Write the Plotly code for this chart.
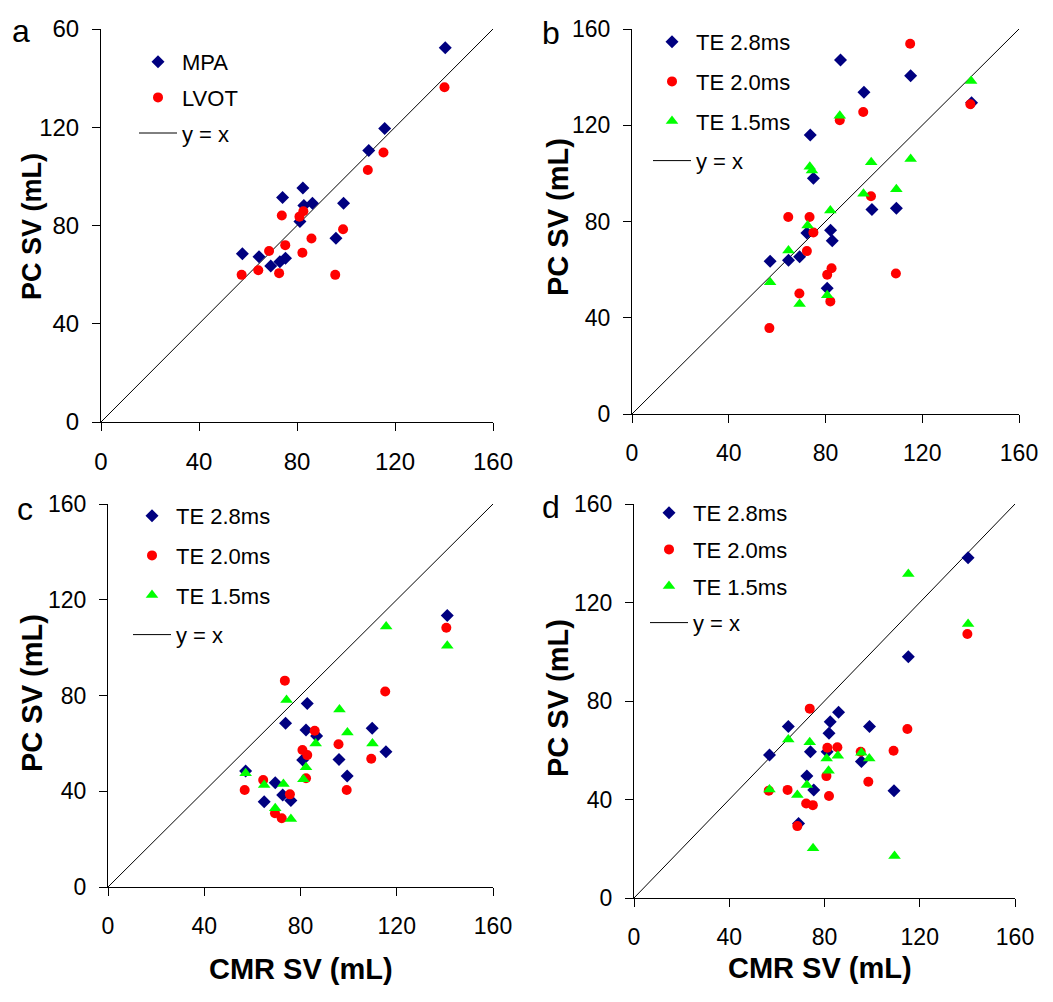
import plotly.graph_objects as go

# ---------------- data ----------------
DIAG = [0, 160]
TICKS = [0, 40, 80, 120, 160]
TICKTEXT_A = ["0", "40", "80", "120", "60"]
TICKTEXT = ["0", "40", "80", "120", "160"]

# Panel a
a_mpa_x = [57.7, 64.5, 69.3, 73.0, 75.3, 74.1, 82.4, 82.8, 86.3, 81.2, 95.9, 99.0, 109.3, 115.8, 140.5]
a_mpa_y = [68.5, 67.3, 63.5, 65.2, 66.7, 91.4, 95.3, 88.1, 89.1, 81.6, 74.8, 89.1, 110.5, 119.5, 152.4]
a_lvot_x = [57.4, 64.2, 68.6, 72.7, 73.8, 75.2, 81.0, 82.6, 82.2, 85.9, 95.6, 98.8, 108.9, 115.3, 140.2]
a_lvot_y = [59.9, 61.8, 69.6, 60.6, 84.1, 72.0, 83.6, 85.8, 68.9, 74.7, 59.9, 78.5, 102.6, 109.7, 136.3]

# Panel b
b_28_x = [57.1, 64.7, 69.3, 72.3, 73.7, 75.0, 80.7, 82.1, 82.8, 86.2, 95.9, 99.2, 109.3, 115.2, 140.4]
b_28_y = [63.5, 63.9, 65.3, 75.2, 116.0, 98.0, 52.3, 76.4, 72.0, 147.1, 133.7, 85.0, 85.5, 140.6, 129.3]
b_20_x = [56.8, 64.6, 69.2, 72.3, 73.4, 75.0, 80.7, 82.5, 82.0, 85.9, 95.6, 98.8, 109.1, 115.0, 139.9]
b_20_y = [35.7, 81.9, 50.1, 67.7, 81.9, 75.4, 57.9, 60.6, 46.8, 122.1, 125.5, 90.5, 58.4, 153.9, 128.7]
b_15_x = [57.1, 64.7, 69.3, 72.6, 73.5, 74.4, 82.0, 80.7, 85.9, 95.7, 98.9, 109.3, 115.2, 140.2]
b_15_y = [54.8, 68.0, 45.7, 78.3, 102.8, 101.2, 84.6, 49.3, 123.9, 91.5, 104.6, 93.4, 106.0, 138.4]

# Panel c
c_28_x = [57.2, 64.9, 69.5, 72.6, 76.0, 73.8, 82.8, 82.3, 80.9, 86.7, 96.0, 99.4, 109.8, 115.5, 141.0]
c_28_y = [48.5, 35.6, 43.6, 38.4, 36.1, 68.4, 76.7, 65.6, 53.1, 63.1, 53.3, 46.4, 66.3, 56.5, 113.4]
c_20_x = [56.8, 64.5, 69.4, 72.2, 73.5, 75.6, 80.8, 82.8, 82.3, 85.9, 95.8, 99.2, 109.4, 115.2, 140.6]
c_20_y = [40.5, 44.7, 30.8, 28.7, 86.2, 38.7, 57.2, 55.1, 45.4, 65.3, 59.6, 40.5, 53.6, 81.7, 108.3]
c_15_x = [57.2, 64.9, 69.5, 72.9, 74.2, 76.0, 81.2, 82.3, 86.3, 96.2, 99.5, 109.9, 115.6, 141.0]
c_15_y = [47.5, 42.6, 32.9, 43.0, 78.1, 28.4, 45.0, 50.0, 60.0, 74.2, 64.5, 60.0, 108.8, 100.8]

# Panel d
d_28_x = [56.9, 64.8, 69.1, 72.6, 74.1, 75.5, 81.1, 81.9, 82.4, 85.9, 95.5, 98.9, 109.2, 115.2, 140.3]
d_28_y = [58.1, 69.6, 30.3, 49.5, 59.4, 43.9, 59.4, 66.9, 71.6, 75.4, 55.4, 69.6, 43.6, 98.0, 138.2]
d_20_x = [56.6, 64.5, 68.6, 72.3, 75.1, 73.8, 80.8, 81.2, 81.9, 85.4, 95.2, 98.4, 109.0, 114.8, 140.0]
d_20_y = [43.6, 43.9, 29.2, 38.4, 37.7, 76.9, 49.5, 61.0, 41.4, 61.2, 59.4, 47.2, 59.8, 68.6, 107.2]
d_15_x = [56.9, 64.8, 68.6, 72.6, 73.8, 75.2, 80.9, 81.7, 85.6, 95.5, 98.8, 109.4, 115.2, 140.3]
d_15_y = [44.1, 64.4, 41.8, 45.9, 63.2, 20.2, 56.7, 51.7, 57.8, 59.0, 56.7, 17.1, 131.6, 111.3]

# ---------------- style ----------------
FONT = "Arial, Liberation Sans, sans-serif"
NAVY = "#000080"
RED = "#FF0000"
GREEN = "#00FF00"
OFF = 8                      # default page body margin
W, H = 1053 - OFF, 1002 - OFF


def fx(px):
    return (px - OFF) / W


def fy(py):
    return 1 - (py - OFF) / H


# pixel boxes (page coordinates) of the four plot areas: (left, right, top, bottom)
boxes = {
    "a": (101, 493, 29, 422),
    "b": (632, 1019, 29, 414),
    "c": (108, 493, 504, 887),
    "d": (634, 1015, 504, 898),
}

fig = go.Figure()

axis_ids = {"a": ("x", "y", "legend"), "b": ("x2", "y2", "legend2"),
            "c": ("x3", "y3", "legend3"), "d": ("x4", "y4", "legend4")}

series = {
    "a": [("MPA", a_mpa_x, a_mpa_y, "diamond", NAVY),
          ("LVOT", a_lvot_x, a_lvot_y, "circle", RED)],
    "b": [("TE 2.8ms", b_28_x, b_28_y, "diamond", NAVY),
          ("TE 2.0ms", b_20_x, b_20_y, "circle", RED),
          ("TE 1.5ms", b_15_x, b_15_y, "triangle-up", GREEN)],
    "c": [("TE 2.8ms", c_28_x, c_28_y, "diamond", NAVY),
          ("TE 2.0ms", c_20_x, c_20_y, "circle", RED),
          ("TE 1.5ms", c_15_x, c_15_y, "triangle-up", GREEN)],
    "d": [("TE 2.8ms", d_28_x, d_28_y, "diamond", NAVY),
          ("TE 2.0ms", d_20_x, d_20_y, "circle", RED),
          ("TE 1.5ms", d_15_x, d_15_y, "triangle-up", GREEN)],
}

marker_size = {"diamond": 10, "circle": 10, "triangle-up": 11}

for p in "abcd":
    xa, ya, lg = axis_ids[p]
    # identity line (drawn first, listed last in legend)
    fig.add_trace(go.Scatter(x=DIAG, y=DIAG, mode="lines", name="y = x",
                             line=dict(color="black", width=1),
                             xaxis=xa, yaxis=ya, legend=lg,
                             legendgroup=p + "line", legendrank=10,
                             hoverinfo="skip"))
    for i, (name, xs, ys, sym, col) in enumerate(series[p]):
        fig.add_trace(go.Scatter(x=xs, y=ys, mode="markers", name=name,
                                 marker=dict(symbol=sym, color=col,
                                             size=marker_size[sym],
                                             line=dict(width=0)),
                                 xaxis=xa, yaxis=ya, legend=lg,
                                 legendgroup=p + str(i), legendrank=i + 1))

# axes
for p in "abcd":
    xa, ya, lg = axis_ids[p]
    l, r, t, b = boxes[p]
    fs = 24 if p == "a" else 23
    common = dict(range=[0, 160], tickvals=TICKS, showline=True,
                  linecolor="black", linewidth=1, ticks="outside", ticklen=8,
                  tickwidth=1, tickcolor="black", showgrid=False, zeroline=False,
                  automargin=False,
                  tickfont=dict(family=FONT, size=fs, color="black"))
    xkey = "xaxis" if xa == "x" else "xaxis" + xa[1:]
    ykey = "yaxis" if ya == "y" else "yaxis" + ya[1:]
    fig.update_layout({
        xkey: dict(domain=[fx(l), fx(r)], anchor=ya, ticktext=TICKTEXT,
                   ticklabelstandoff=10, **common),
        ykey: dict(domain=[fy(b), fy(t)], anchor=xa,
                   ticktext=TICKTEXT_A if p == "a" else TICKTEXT,
                   ticklabelstandoff=8, **common),
    })

# legends: (left px, top px, group gap)
legend_pos = {"a": (134, 41, 4), "b": (648, 21, 8), "c": (128, 495, 8), "d": (645, 492, 5)}
for p in "abcd":
    xa, ya, lg = axis_ids[p]
    lx, ly, gap = legend_pos[p]
    fig.update_layout({lg: dict(x=fx(lx), y=fy(ly), xanchor="left", yanchor="top",
                                bgcolor="rgba(0,0,0,0)", borderwidth=0,
                                traceorder="grouped", tracegroupgap=gap,
                                itemwidth=38,
                                font=dict(family=FONT, size=22, color="black"))})

# panel letters and axis titles
anns = []
letters = {"a": (21, 31), "b": (551, 33), "c": (25, 509), "d": (551, 507)}
for p, (lx, ly) in letters.items():
    anns.append(dict(text=p, x=fx(lx), y=fy(ly), xref="paper", yref="paper",
                     showarrow=False, xanchor="center", yanchor="middle",
                     font=dict(family=FONT, size=32, color="black")))
ytitles = {"a": (32, 227, 27), "b": (558, 217, 29), "c": (32, 693, 29), "d": (558, 698, 29)}
for p, (tx, ty, fs) in ytitles.items():
    anns.append(dict(text="<b>PC SV (mL)</b>", x=fx(tx), y=fy(ty),
                     xref="paper", yref="paper", showarrow=False, textangle=-90,
                     xanchor="center", yanchor="middle",
                     font=dict(family=FONT, size=fs, color="black")))
xtitles = {"c": (301, 969), "d": (820, 968)}
for p, (tx, ty) in xtitles.items():
    anns.append(dict(text="<b>CMR SV (mL)</b>", x=fx(tx), y=fy(ty),
                     xref="paper", yref="paper", showarrow=False,
                     xanchor="center", yanchor="middle",
                     font=dict(family=FONT, size=29, color="black")))

fig.update_layout(width=W, height=H,
                  margin=dict(l=0, r=0, t=0, b=0, autoexpand=False),
                  paper_bgcolor="white", plot_bgcolor="white",
                  annotations=anns, showlegend=True)

fig.write_html("out.html")
